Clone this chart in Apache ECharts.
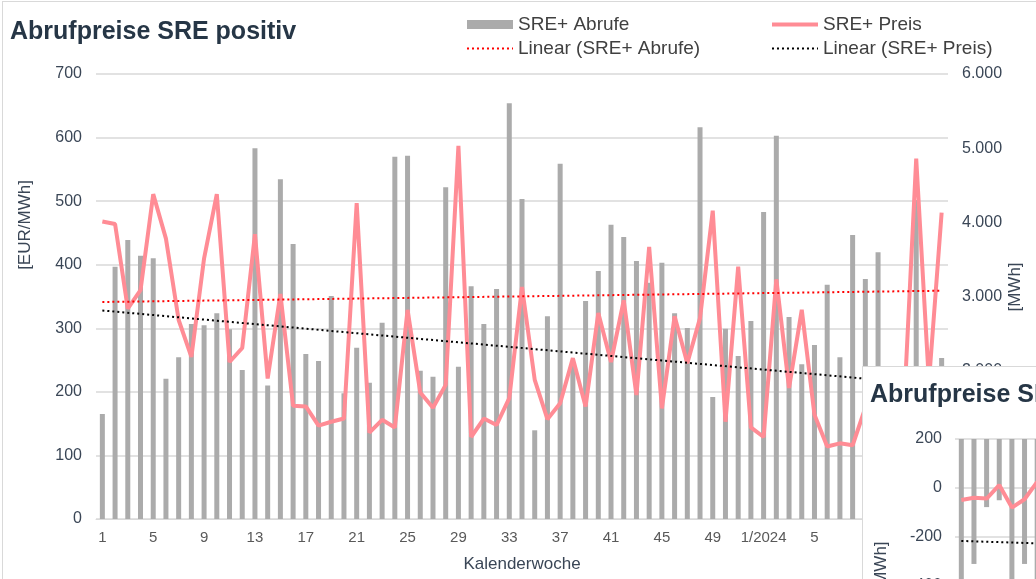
<!doctype html>
<html>
<head>
<meta charset="utf-8">
<script src="https://cdn.jsdelivr.net/npm/echarts@6/dist/echarts.min.js"></script>
<style>
  html, body { margin:0; padding:0; width:1036px; height:579px; overflow:hidden; background:#fff; }
  #main { position:absolute; left:0; top:0; width:1036px; height:579px; }
  #frame { position:absolute; left:2px; top:1px; width:1040px; height:600px; border-left:1px solid #d9d9d9; border-top:1px solid #d9d9d9; pointer-events:none; }
  #inset { position:absolute; left:862px; top:366px; width:420px; height:320px; border:1px solid #d9d9d9; background:#fff; box-sizing:border-box; }
</style>
</head>
<body>
<div id="main"></div>
<div id="frame"></div>
<div id="inset"></div>
<script>
// Kalenderwochen 2023 + 2024
var weeks = ['1','2','3','4','5','6','7','8','9','10','11','12','13','14','15','16','17','18','19','20',
  '21','22','23','24','25','26','27','28','29','30','31','32','33','34','35','36','37','38','39','40',
  '41','42','43','44','45','46','47','48','49','50','51','52',
  '1/2024','2','3','4','5','6','7','8','9','10','11','12','13','14','15'];

// SRE+ Abrufe [MWh]
var abrufe = [1416,3402,3762,3550,3515,1892,2180,2629,2611,2773,2557,2009,4998,1800,4580,3708,2225,2130,3007,1695,
  2310,1838,2647,4885,4899,2000,1919,4472,2054,3137,2629,3101,5605,4315,1196,2733,4791,2100,2939,3344,
  3968,3802,3479,3186,3456,2773,2575,5281,1645,2566,2198,2670,4139,5168,2724,2086,2346,3159,2180,3829,
  3236,3596,1500,1700,4300,1400,2171];

// SRE+ Preis [EUR/MWh]
var preis = [468,464,331,360,511,441,313,255,410,511,247,269,448,221,354,178,177,147,153,158,
  497,136,156,144,329,199,175,211,587,129,158,148,190,365,219,157,182,253,177,324,
  247,344,195,428,174,319,245,316,485,153,397,144,129,377,206,329,164,114,119,116,
  175,170,150,159,567,215,482];

// Trendlinien: Wert an erster und letzter Woche
var trendAbrufe = [2926, 3078];
var trendPreis = [328, 210];

// kleines Diagramm unten rechts (SRE negativ)
var negWeeks = ['1','2','3','4','5','6','7'];
var negAbrufe = [-3300,-2550,-1390,-1250,-3500,-2550,-3000];
var negPreis = [-49,-40,-43,12,-80,-46,25];
var negTrend = [-216,-226];

var font = "'Liberation Sans', Arial, sans-serif";
var grid = '#d9d9d9';
var pink = '#ff8c95';
var dotFmt = function (v) { return String(v).replace(/\B(?=(\d{3})+(?!\d))/g, '.'); };
var noSym = { opacity: 0 };

var chart = echarts.init(document.getElementById('main'));
var last = weeks.length - 1;

chart.setOption({
  animation: false,
  textStyle: { fontFamily: font },
  title: {
    text: 'Abrufpreise SRE positiv',
    left: 10, top: 20, padding: 0,
    textStyle: { fontSize: 25, fontWeight: 'bold', color: '#263646', fontFamily: font }
  },
  legend: [{
    orient: 'vertical', left: 466, top: 15, padding: 0, itemWidth: 46, itemHeight: 9, itemGap: 5,
    textStyle: { fontSize: 19, color: '#404040', fontFamily: font },
    data: [{ name: 'SRE+ Abrufe', icon: 'rect' }, { name: 'Linear (SRE+ Abrufe)', itemStyle: noSym }]
  }, {
    orient: 'vertical', left: 770, top: 15, padding: 0, itemWidth: 46, itemHeight: 9, itemGap: 5,
    textStyle: { fontSize: 19, color: '#404040', fontFamily: font },
    data: [{ name: 'SRE+ Preis', itemStyle: noSym, lineStyle: { width: 4 } }, { name: 'Linear (SRE+ Preis)', itemStyle: noSym }]
  }],
  grid: { left: 96, right: 88, top: 74, bottom: 60 },
  xAxis: {
    type: 'category', data: weeks, boundaryGap: true,
    name: 'Kalenderwoche', nameLocation: 'middle', nameGap: 37,
    nameTextStyle: { fontSize: 17, color: '#3a4656', fontFamily: font },
    axisLine: { lineStyle: { color: grid } },
    axisTick: { interval: 3, length: 5, lineStyle: { color: grid } },
    axisLabel: { interval: 3, fontSize: 15, color: '#595959', margin: 11 }
  },
  yAxis: [{
    type: 'value', min: 0, max: 700, interval: 100,
    axisLine: { show: false }, axisTick: { show: false },
    axisLabel: { fontSize: 16, color: '#3a4656', margin: 14 },
    splitLine: { lineStyle: { color: grid, width: 1.5 } }
  }, {
    type: 'value', min: 0, max: 6000, interval: 1000,
    axisLine: { show: false }, axisTick: { show: false },
    axisLabel: { fontSize: 16, color: '#3a4656', margin: 14, formatter: dotFmt },
    splitLine: { show: false }
  }],
  graphic: [{
    type: 'text', x: 25, y: 225, rotation: Math.PI / 2,
    style: { text: '[EUR/MWh]', fontSize: 17, fill: '#3a4656', fontFamily: font, align: 'center', verticalAlign: 'middle' }
  }, {
    type: 'text', x: 1015, y: 287, rotation: Math.PI / 2,
    style: { text: '[MWh]', fontSize: 17, fill: '#3a4656', fontFamily: font, align: 'center', verticalAlign: 'middle' }
  }],
  series: [{
    name: 'SRE+ Abrufe', type: 'bar', yAxisIndex: 1, data: abrufe,
    barWidth: 5, itemStyle: { color: '#ababab' }
  }, {
    name: 'SRE+ Preis', type: 'line', yAxisIndex: 0, data: preis,
    symbol: 'none', lineStyle: { color: pink, width: 4 }, itemStyle: { color: pink }
  }, {
    name: 'Linear (SRE+ Abrufe)', type: 'line', yAxisIndex: 1,
    data: [[0, trendAbrufe[0]], [last, trendAbrufe[1]]],
    symbol: 'none', lineStyle: { color: '#ff0000', width: 2, type: [2, 3] }, itemStyle: { color: '#ff0000' }
  }, {
    name: 'Linear (SRE+ Preis)', type: 'line', yAxisIndex: 0,
    data: [[0, trendPreis[0]], [last, trendPreis[1]]],
    symbol: 'none', lineStyle: { color: '#000000', width: 2, type: [2, 3] }, itemStyle: { color: '#000000' }
  }]
});

// Ausschnitt des zweiten Diagramms
var chart2 = echarts.init(document.getElementById('inset'));
chart2.setOption({
  animation: false,
  textStyle: { fontFamily: font },
  title: {
    text: 'Abrufpreise SRE negativ',
    left: 7, top: 16, padding: 0,
    textStyle: { fontSize: 25, fontWeight: 'bold', color: '#263646', fontFamily: font }
  },
  grid: { left: 92, top: 72, width: 88.5, height: 196 },
  xAxis: {
    type: 'category', data: negWeeks, boundaryGap: true,
    axisLine: { show: false }, axisTick: { show: false }, axisLabel: { show: false }
  },
  yAxis: [{
    type: 'value', min: -600, max: 200, interval: 200,
    axisLine: { show: false }, axisTick: { show: false },
    axisLabel: { fontSize: 16, color: '#3a4656', margin: 13 },
    splitLine: { lineStyle: { color: grid, width: 1.5 } }
  }, {
    type: 'value', min: -4000, max: 0, show: false, splitLine: { show: false }
  }],
  graphic: [{
    type: 'text', x: 18, y: 199, rotation: Math.PI / 2,
    style: { text: '[MWh]', fontSize: 17, fill: '#3a4656', fontFamily: font, align: 'center', verticalAlign: 'middle' }
  }],
  series: [{
    type: 'bar', yAxisIndex: 1, data: negAbrufe, barWidth: 5, itemStyle: { color: '#ababab' }
  }, {
    type: 'line', yAxisIndex: 0, data: negPreis, symbol: 'none',
    lineStyle: { color: pink, width: 4 }
  }, {
    type: 'line', yAxisIndex: 0, data: [[0, negTrend[0]], [negWeeks.length - 1, negTrend[1]]],
    symbol: 'none', lineStyle: { color: '#000000', width: 2, type: [2, 3] }
  }]
});
</script>
</body>
</html>
